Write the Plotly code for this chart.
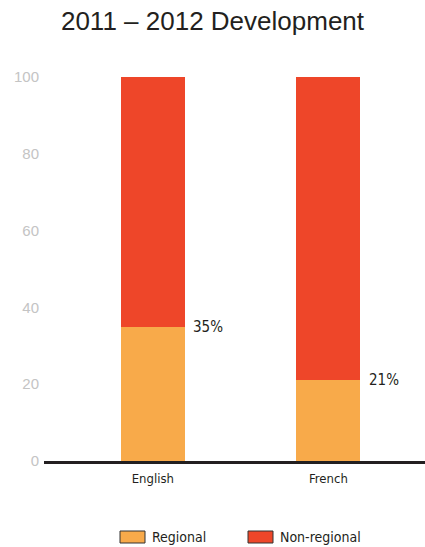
import plotly.graph_objects as go

categories = ["English", "French"]
regional = [35, 21]
non_regional = [65, 79]
labels = ["35%", "21%"]
y_ticks = [0, 20, 40, 60, 80, 100]
series_names = ["Regional", "Non-regional"]

C_REG = "#F8AA4A"
C_NON = "#EE4629"
COND = "DejaVu Sans Condensed, Roboto, sans-serif"
TXT = "#231f20"

W, H = 425, 547
ML, MR, MT, MB = 44, 0, 77, 86
PW, PH = W - ML - MR, H - MT - MB

fig = go.Figure()
fig.add_trace(go.Bar(x=categories, y=regional, marker=dict(color=C_REG, line=dict(width=0)),
                     width=0.364, showlegend=False, name=series_names[0]))
fig.add_trace(go.Bar(x=categories, y=non_regional, marker=dict(color=C_NON, line=dict(width=0)),
                     width=0.364, showlegend=False, name=series_names[1]))

for i, (v, t) in enumerate(zip(regional, labels)):
    fig.add_annotation(x=i + 0.22, y=v, xref="x", yref="y", text=t, showarrow=False,
                       xanchor="left", yanchor="middle",
                       font=dict(family=COND, size=15, color=TXT))

def px(xp):
    return (xp - ML) / PW

def py(yp):
    return (H - MB - yp) / PH

legend_pos = [120, 248]
for name, col, x0 in zip(series_names, [C_REG, C_NON], legend_pos):
    fig.add_shape(type="rect", xref="paper", yref="paper",
                  x0=px(x0), x1=px(x0 + 25), y0=py(543), y1=py(531),
                  fillcolor=col, line=dict(color="#333333", width=1))
    fig.add_annotation(x=px(x0 + 30), y=py(537), xref="paper", yref="paper", text=name,
                       showarrow=False, xanchor="left", yanchor="middle",
                       font=dict(family=COND, size=14, color=TXT))

fig.update_layout(
    barmode="stack",
    width=W, height=H,
    margin=dict(l=ML, r=MR, t=MT, b=MB, autoexpand=False),
    plot_bgcolor="white", paper_bgcolor="white",
    showlegend=False,
    title=dict(text="2011 \u2013 2012 Development", x=0.5, xref="container", xanchor="center",
               y=1 - 21 / H, yanchor="middle", yref="container",
               font=dict(family="Liberation Sans, Arial, sans-serif", size=26, color=TXT)),
    xaxis=dict(range=[-0.62, 1.55], showline=True, linecolor=TXT, linewidth=2.5,
               showgrid=False, ticks="", tickfont=dict(family=COND, size=13, color=TXT),
               zeroline=False, ticklabelstandoff=4),
    yaxis=dict(range=[0, 100], tickvals=y_ticks, showgrid=False, zeroline=False, showline=False,
               tickfont=dict(family="Liberation Sans, Arial, sans-serif", size=15, color="#c4c4c4"),
               ticks="", ticklabelstandoff=4),
)

fig.write_html("out.html")
